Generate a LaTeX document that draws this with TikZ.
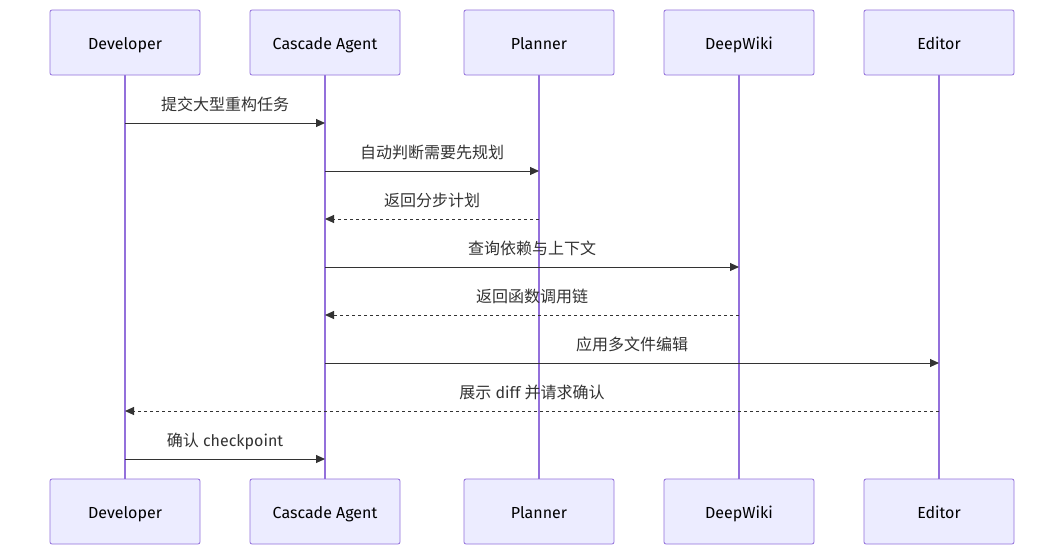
\documentclass[tikz,border=0pt]{standalone}
\usepackage{fontspec}
\setmainfont{Fira Sans}
\newfontfamily\cjk{Noto Sans CJK SC}
\usetikzlibrary{arrows.meta,calc}
\definecolor{boxfill}{HTML}{ECECFF}
\definecolor{boxline}{HTML}{9370DB}
\definecolor{msg}{HTML}{333333}
\tikzset{
  actor/.style={draw=boxline,fill=boxfill,rounded corners=2pt,minimum width=150pt,minimum height=65pt,font=\fontsize{16}{19}\selectfont,text=black,line width=0.8pt,text height=14pt,text depth=0pt,inner sep=0pt},
  life/.style={draw=boxline,line width=1.3pt},
  call/.style={draw=msg,line width=1pt,-{Triangle[length=9pt,width=8pt]}},
  reply/.style={call,dash pattern=on 3pt off 3pt},
  lbl/.style={font=\fontsize{16}{19}\selectfont,text=msg,anchor=base}
}
\begin{document}
\begin{tikzpicture}[x=1pt,y=-1pt]
\useasboundingbox[fill=white] (0,0) rectangle (1064,555);
\foreach \n/\x/\t in {dev/125/Developer,cas/325/Cascade Agent,pla/539/Planner,dw/739/DeepWiki,ed/939/Editor}{
  \draw[life] (\x,75) -- (\x,479);
  \node[actor] (\n t) at (\x,42.5) {\t};
  \node[actor] (\n b) at (\x,511.5) {\t};
}
\foreach \y/\a/\b/\s/\t in {123/dev/cas/call/{\cjk 提交大型重构任务},171/cas/pla/call/{\cjk 自动判断需要先规划},219/pla/cas/reply/{\cjk 返回分步计划},267/cas/dw/call/{\cjk 查询依赖与上下文},315/dw/cas/reply/{\cjk 返回函数调用链},363/cas/ed/call/{\cjk 应用多文件编辑},411/ed/dev/reply/{{\cjk 展示} diff {\cjk 并请求确认}},459/dev/cas/call/{{\cjk 确认} checkpoint}}{
  \coordinate (s\y) at (\a t.south |- 0,\y);
  \coordinate (e\y) at (\b t.south |- 0,\y);
  \draw[\s] (s\y) -- (e\y);
  \node[lbl] (l\y) at ($(s\y)!0.5!(e\y)+(0,-13)$) {\t};
}
\end{tikzpicture}
\end{document}
